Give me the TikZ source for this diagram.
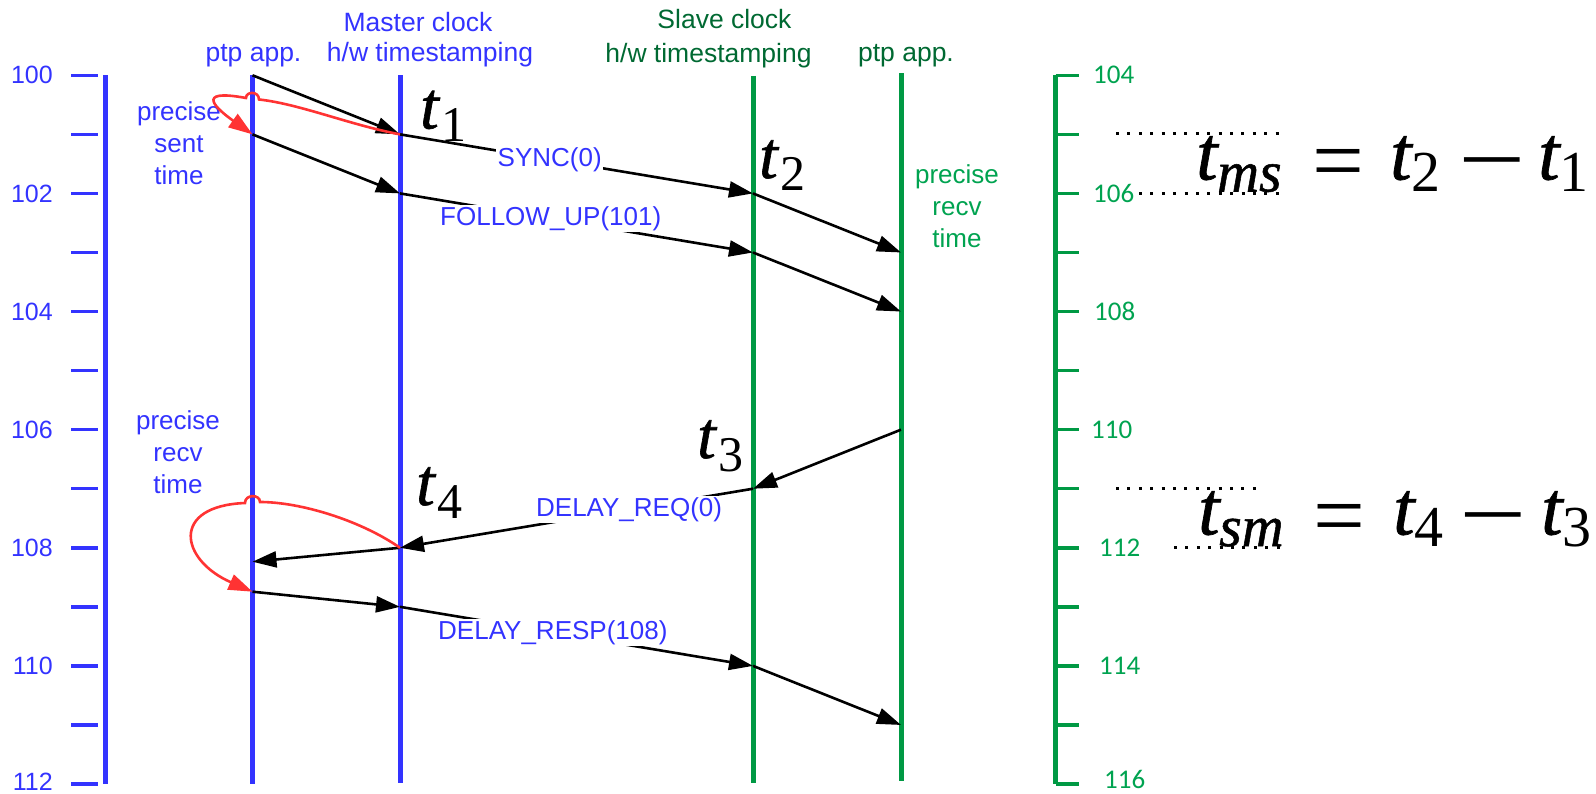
\documentclass[tikz,border=0pt]{standalone}
\usepackage{graphicx}
\usepackage{fontspec}
\setmainfont{Liberation Sans}
\newfontfamily\carlito{Carlito}
\newfontfamily\tser[ItalicFeatures={FakeBold=0.9}]{Liberation Serif}
\usetikzlibrary{arrows.meta}
\definecolor{myblue}{RGB}{51,51,255}
\definecolor{mygreen}{RGB}{0,153,68}
\definecolor{darkgreen}{RGB}{0,105,50}
\definecolor{lightgreen}{RGB}{0,163,80}
\definecolor{myred}{RGB}{255,51,51}
\newcommand\tlab[1]{{\tser\itshape t}\kern3pt\raisebox{-13pt}{\fontsize{50}{50}\selectfont\tser #1}}
\tikzset{
  lane/.style={line width=5pt},
  axtick/.style={line width=3.5pt},
  msgarrow/.style={black, line width=2.6pt, -{Triangle[length=24pt,width=16pt]}},
  redarrow/.style={myred, line width=2.6pt, -{Triangle[length=24pt,width=16pt]}},
  msglabel/.style={fill=white, inner sep=1.5pt, text=myblue, font=\fontsize{26}{31}\selectfont},
  hdr/.style={font=\fontsize{26.5}{32}\selectfont, anchor=base, inner sep=0pt},
  note/.style={font=\fontsize{26}{32}\selectfont, align=center, inner sep=0pt},
  ticklab/.style={font=\fontsize{25}{30}\selectfont, text=myblue, anchor=east, inner sep=0pt},
  rticklab/.style={font=\carlito\fontsize{27}{30}\selectfont, text=lightgreen, anchor=west, inner sep=0pt},
  tlabel/.style={font=\fontsize{67}{80}\selectfont, anchor=base west, inner sep=0pt},
  eqt/.style={font=\tser\itshape\fontsize{77}{90}\selectfont, anchor=base west, inner sep=0pt},
  eqsubi/.style={font=\tser\itshape\fontsize{58}{70}\selectfont, anchor=base west, inner sep=0pt},
  eqsub/.style={font=\tser\fontsize{58}{70}\selectfont, anchor=base west, inner sep=0pt},
  eqop/.style={font=\tser\fontsize{92}{100}\selectfont, anchor=north, inner sep=0pt},
  dotline/.style={black, line width=3pt, dash pattern=on 3pt off 8.4pt}
}
\begin{document}
\begin{tikzpicture}[x=1pt,y=-1pt]
\useasboundingbox (0,0) rectangle (1596,794);
% lanes
\coordinate (Ltop) at (105,75.3);   \coordinate (Lbot) at (105,784);
\coordinate (Ptop) at (252.5,75.3); \coordinate (Pbot) at (252.5,784);
\coordinate (Mtop) at (400,75.3);   \coordinate (Mbot) at (400,783);
\coordinate (Stop) at (753,76);     \coordinate (Sbot) at (753,783);
\coordinate (Qtop) at (901,73.3);   \coordinate (Qbot) at (901,781);
\coordinate (Rtop) at (1055.6,75.3);\coordinate (Rbot) at (1055.6,784);
\draw[lane,myblue] (Ltop) -- (Lbot);
\draw[lane,myblue] (Ptop) -- (Pbot);
\draw[lane,myblue] (Mtop) -- (Mbot);
\draw[lane,mygreen] (Stop) -- (Sbot);
\draw[lane,mygreen] (Qtop) -- (Qbot);
\draw[lane,mygreen] (Rtop) -- (Rbot);
% ticks
\foreach \k in {0,...,12}{
  \draw[axtick,myblue] (71,{75.3+59.06*\k}) -- (98,{75.3+59.06*\k});
  \draw[axtick,mygreen] (1055.6,{75.3+59.06*\k}) -- (1079,{75.3+59.06*\k});
}
\foreach \k/\v/\d in {0/100/0,2/102/0,4/104/0,6/106/0,8/108/0,10/110/0,12/112/2.5}
  \node[ticklab] (ll\v) at (53,{75.3+59.06*\k-\d}) {\v};
\foreach \k/\v/\x/\d in {0/104/1093/0,2/106/1093/0,4/108/1094/0,6/110/1091/0,8/112/1099/0,10/114/1099/0,12/116/1104/4.5}
  \node[rticklab] (rl\v) at (\x,{75.3+59.06*\k-\d}) {\v};
% headers
\node[hdr,text=myblue] (hmc) at (418,32) {Master clock};
\node[hdr,text=myblue] (hmh) at (430,62) {h/w timestamping};
\node[hdr,text=myblue] (hmp) at (253.5,62) {ptp app.};
\node[hdr,text=darkgreen] (hsc) at (724.5,28.5) {Slave clock};
\node[hdr,text=darkgreen] (hsh) at (708.5,62.5) {h/w timestamping};
\node[hdr,text=darkgreen] (hsp) at (906,62) {ptp app.};
% notes
\node[note,text=myblue] (nsent) at (179,143) {precise\\sent\\time};
\node[note,text=myblue] (nrecvm) at (178,452) {precise\\recv\\time};
\node[note,text=lightgreen] (nrecvs) at (957,206) {precise\\recv\\time};
% event points
\coordinate (pA0) at (252.5,75.3);
\coordinate (mA1) at (400,134.36);
\coordinate (sA2) at (753,193.42);
\coordinate (qA3) at (901,252.48);
\coordinate (pB1) at (252.5,134.36);
\coordinate (mB2) at (400,193.42);
\coordinate (sB3) at (753,252.48);
\coordinate (qB4) at (901,311.54);
\coordinate (qC6) at (901,429.66);
\coordinate (sC7) at (753,488.72);
\coordinate (mC8) at (400,547.78);
\coordinate (pC8) at (252.5,561.7);
\coordinate (pD)  at (252.5,591.7);
\coordinate (mD9) at (400,606.84);
\coordinate (sD10) at (753,665.9);
\coordinate (qD11) at (901,724.96);
% messages
\draw[msgarrow] (pA0) -- (mA1);
\draw[msgarrow] (mA1) -- (sA2) node[msglabel,pos=0.424] (lsync) {SYNC(0)};
\draw[msgarrow] (sA2) -- (qA3);
\draw[msgarrow] (pB1) -- (mB2);
\draw[msgarrow] (mB2) -- (sB3) node[msglabel,pos=0.427] (lfup) {FOLLOW\_UP(101)};
\draw[msgarrow] (sB3) -- (qB4);
\draw[msgarrow] (qC6) -- (sC7);
\draw[msgarrow] (sC7) -- (mC8) node[msglabel,pos=0.351] (ldreq) {DELAY\_REQ(0)};
\draw[msgarrow] (mC8) -- (pC8);
\draw[msgarrow] (pD) -- (mD9);
\draw[msgarrow] (mD9) -- (sD10) node[msglabel,pos=0.433] (ldresp) {DELAY\_RESP(108)};
\draw[msgarrow] (sD10) -- (qD11);
% red loops
\draw[redarrow] (mA1) .. controls (350,125) and (300,104) .. (259,99.5)
  .. controls (259,91) and (246,91) .. (246,98)
  .. controls (192,88) and (218,110) .. (pB1);
\draw[redarrow] (mC8) .. controls (360,520) and (300,502) .. (260,502)
  .. controls (260,494) and (245,494) .. (245,503)
  .. controls (170,506) and (180,560) .. (pD);
% t labels
\node[tlabel] (t1) at (420,128.5) {\tlab{1}};
\node[tlabel] (t2) at (759,178) {\tlab{2}};
\node[tlabel] (t3) at (697,458) {\tlab{3}};
\node[tlabel] (t4) at (416,505) {\tlab{4}};
% dotted guides
\coordinate (d1a) at (1116,133.4); \coordinate (d1b) at (1286,133.4);
\coordinate (d2a) at (1139,193.4); \coordinate (d2b) at (1286,193.4);
\coordinate (d3a) at (1116,488.7); \coordinate (d3b) at (1262,488.7);
\coordinate (d4a) at (1174,547.8); \coordinate (d4b) at (1286,547.8);
\draw[dotline] (d1a) -- (d1b);
\draw[dotline] (d2a) -- (d2b);
\draw[dotline] (d3a) -- (d3b);
\draw[dotline] (d4a) -- (d4b);
% equation t_ms = t_2 - t_1
\node[eqt]    (ea1) at (1196,179.5) {t};
\node[eqsubi] (ea2) at (1217,191.5) {ms};
\node[eqop]   (ea3) at (1338.5,149.7) {=};
\node[eqt]    (ea4) at (1390,179.5) {t};
\node[eqsub]  (ea5) at (1411,191.5) {2};
\node[eqop]   (ea6) at (1492.5,157.3) {\scalebox{1.3}[1]{−}};
\node[eqt]    (ea7) at (1538,179.5) {t};
\node[eqsub]  (ea8) at (1559,191.5) {1};
% equation t_sm = t_4 - t_3
\node[eqt]    (eb1) at (1198,534.5) {t};
\node[eqsubi] (eb2) at (1219,546) {sm};
\node[eqop]   (eb3) at (1339,504.7) {=};
\node[eqt]    (eb4) at (1393,534.5) {t};
\node[eqsub]  (eb5) at (1414,546) {4};
\node[eqop]   (eb6) at (1493.5,512) {\scalebox{1.3}[1]{−}};
\node[eqt]    (eb7) at (1541,534.5) {t};
\node[eqsub]  (eb8) at (1562,546) {3};
\end{tikzpicture}
\end{document}
